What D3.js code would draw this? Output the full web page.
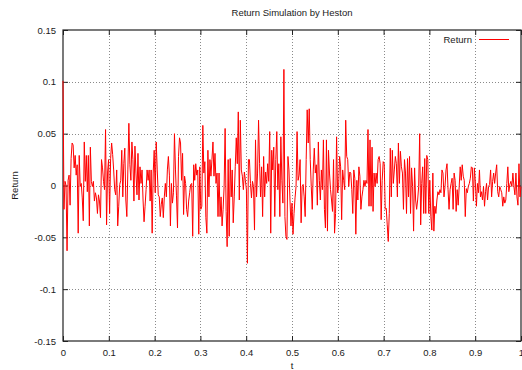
<!DOCTYPE html>
<html><head><meta charset="utf-8">
<script src="https://cdn.jsdelivr.net/npm/d3@7"></script>
<style>
body{margin:0;background:#fff}
svg{display:block}
text{font-family:"Liberation Sans",Arial,Helvetica,sans-serif;font-size:9.5px;fill:#1a1a1a}
</style>
</head><body>
<svg id="chart" width="522" height="370"></svg>
<script>
const title = "Return Simulation by Heston";
const xLabel = "t";
const yLabel = "Return";
const seriesName = "Return";
const xTicks = [0, 0.1, 0.2, 0.3, 0.4, 0.5, 0.6, 0.7, 0.8, 0.9, 1];
const xTickLabels = ["0", "0.1", "0.2", "0.3", "0.4", "0.5", "0.6", "0.7", "0.8", "0.9", "1"];
const yTicks = [-0.15, -0.1, -0.05, 0, 0.05, 0.1, 0.15];
const yTickLabels = ["-0.15", "-0.1", "-0.05", "0", "0.05", "0.1", "0.15"];

// simulated returns, evenly spaced over t in [0, 1]
const returns = [
 0.101,-0.023,0.004,0,-0.063,0.005,0.010,-0.019,0.026,0.041,0.039,0.017,0.029,0.010,0.020,-0.046,0.029,-0.001,0.002,-0.012,-0.034,0.042,0.004,0.029,-0.006,0.029,-0.039,0.037,0.004,-0.001,0.004,-0.015,-0.007,-0.012,-0.027,-0.009,-0.015,-0.031,0.025,0.017,0.004,-0.004,0.054,-0.038,0.013,
 0.025,-0.027,0.026,0.041,0.030,0.015,-0.004,-0.009,0.015,-0.039,-0.020,0.001,0.005,0.034,-0.011,0.021,0.036,-0.014,-0.030,0.015,0.060,0.020,0.005,0.042,0.025,-0.015,0.038,0.012,-0.009,0.031,-0.014,0.018,0.002,0.015,-0.014,-0.035,-0.020,-0.004,0.015,0.005,0.015,-0.015,0.015,-0.046,0.012,
 0.034,-0.007,0.042,0.015,-0.009,-0.011,-0.030,-0.018,-0.012,-0.031,-0.011,0.002,-0.011,0.015,0.028,0.010,-0.039,0.002,-0.017,-0.007,
 0.050,0.015,-0.010,-0.041,0.028,0.046,0.041,0.005,0.031,-0.028,0.009,0.002,-0.023,-0.030,-0.015,-0.007,0.001,0.002,-0.049,0.020,0.005,0.021,0.010,0.015,-0.047,0.018,-0.023,-0.020,0.058,0.012,0.023,-0.031,-0.046,0.034,-0.011,0.025,0.009,0.025,0.042,0.009,0.031,0.002,0.012,-0.030,0.012,-0.030,-0.011,-0.039,-0.023,-0.001,0.055,-0.025,-0.059,0.025,-0.049,0.026,-0.011,0.015,-0.036,-0.011,0.018,0.046,0.021,0.071,-0.014,0.063,0.015,0.009,-0.004,0.013,0.005,-0.004,-0.075,0.025,0.025,0.002,-0.012,0.004,-0.001,-0.043,0.044,-0.011,0.012,0.063,0.021,-0.011,0.018,-0.030,0.028,-0.011,0.013,0.002,0.021,0.004,0.052,-0.046,0.034,0.015,0.037,-0.030,0.025,0.052,-0.004,0.021,-0.030,0.047,0.005,-0.017,0.112,
 -0.030,-0.049,-0.052,0.028,0.015,-0.014,-0.039,-0.017,-0.047,-0.027,-0.012,-0.001,0.052,0.005,0.010,0.025,-0.036,-0.001,0.001,-0.011,-0.030,0.025,0.073,0.041,0.074,0.025,-0.001,-0.023,0.015,0.036,0.012,0.020,-0.019,0.042,0.005,-0.014,0.015,-0.004,0.044,-0.023,-0.041,0.044,-0.044,0.034,0.012,-0.004,-0.014,-0.025,0.025,-0.046,-0.027,0.047,-0.007,-0.001,0.028,0.018,-0.033,0.015,0.005,-0.004,0.063,0.028,0.025,-0.001,0.013,0.012,-0.004,-0.027,0.015,0.007,-0.047,0.005,-0.014,0.018,0.009,-0.023,-0.011,-0.004,0.005,-0.001,0.005,0.002,0.054,-0.020,0.044,-0.020,0.037,-0.025,0.012,-0.001,0.012,0.002,0.025,0.028,0.021,-0.033,0.005,0.023,0.021,-0.023,-0.022,-0.038,-0.054,-0.027,0.036,-0.011,0.034,0.002,0.015,0.028,0.021,-0.011,0.041,0.002,0.033,0.018,0.012,-0.023,0.025,
 0.012,-0.027,0.026,-0.011,0.028,-0.027,0.017,-0.001,-0.044,0.017,-0.014,-0.023,-0.014,-0.001,0.050,-0.038,0.002,0.018,-0.027,0.026,-0.027,0.029,0.025,-0.027,0.005,-0.030,-0.043,0.012,-0.044,-0.020,-0.027,-0.014,-0.006,-0.009,-0.004,-0.007,0.015,0.012,-0.011,-0.001,0.015,0.021,-0.004,-0.023,-0.004,0.002,0.007,-0.023,0.012,0.005,-0.025,-0.004,-0.019,-0.001,0.018,0.005,0.020,0.009,0.005,-0.030,-0.003,-0.007,-0.001,0.002,0.007,0.018,0.017,-0.015,0.017,0.002,-0.020,0.002,-0.007,0.015,-0.011,-0.006,-0.014,-0.001,-0.020,-0.006,0.002,-0.014,-0.001,0.001,0.015,-0.011,0.004,0.012,0.002,0.012,0.020,-0.006,-0.011,-0.001,-0.004,-0.007,-0.020,-0.011,-0.017,-0.014,0.002,0.018,-0.006,0.001,0.004,-0.001,0.012,-0.001,-0.009,0.012,-0.011,-0.019,0.021,-0.011,-0.001
];

const mLeft = 63, mRight = 521, mTop = 30, mBottom = 341;
const svg = d3.select("#chart");

const x = d3.scaleLinear().domain([0, 1]).range([mLeft, mRight]);
const y = d3.scaleLinear().domain([-0.15, 0.15]).range([mBottom, mTop]);
const n = returns.length;
const data = returns.map((v, i) => ({t: i / (n - 1), v}));

// grid
const grid = svg.append("g").attr("stroke", "#8a8a8a").attr("stroke-width", 1).attr("stroke-dasharray", "1,2");
grid.selectAll("line.gx").data(xTicks.filter(d => d > 0 && d < 1)).join("line")
  .attr("x1", d => Math.round(x(d)) + 0.5).attr("x2", d => Math.round(x(d)) + 0.5)
  .attr("y1", mTop).attr("y2", mBottom);
grid.selectAll("line.gy").data(yTicks.filter(d => d > -0.15 && d < 0.15)).join("line")
  .attr("y1", d => Math.round(y(d)) + 0.5).attr("y2", d => Math.round(y(d)) + 0.5)
  .attr("x1", mLeft).attr("x2", mRight);

// axes (ticks inward, mirrored)
const tickLen = 5;
const fmtX = (d, i) => xTickLabels[i];
const fmtY = (d, i) => yTickLabels[i];
const axB = svg.append("g").attr("transform", `translate(0,${mBottom})`)
  .call(d3.axisBottom(x).tickValues(xTicks).tickFormat(fmtX).tickSizeInner(-tickLen).tickSizeOuter(0).tickPadding(8));
const axT = svg.append("g").attr("transform", `translate(0,${mTop})`)
  .call(d3.axisTop(x).tickValues(xTicks).tickFormat("").tickSizeInner(-tickLen).tickSizeOuter(0));
const axL = svg.append("g").attr("transform", `translate(${mLeft},0)`)
  .call(d3.axisLeft(y).tickValues(yTicks).tickFormat(fmtY).tickSizeInner(-tickLen).tickSizeOuter(0).tickPadding(7));
const axR = svg.append("g").attr("transform", `translate(${mRight},0)`)
  .call(d3.axisRight(y).tickValues(yTicks).tickFormat("").tickSizeInner(-tickLen).tickSizeOuter(0));
[axB, axT, axL, axR].forEach(a => {
  a.select(".domain").remove();
  a.selectAll(".tick line").attr("stroke", "#222");
  a.selectAll("text").attr("font-family", null).attr("font-size", null).attr("fill", "#1a1a1a");
});

// border
svg.append("rect").attr("x", mLeft).attr("y", mTop).attr("width", mRight - mLeft).attr("height", mBottom - mTop)
  .attr("fill", "none").attr("stroke", "#222").attr("stroke-width", 1.2);

// series line
svg.append("path").datum(data)
  .attr("fill", "none").attr("stroke", "#ff0000").attr("stroke-width", 1)
  .attr("d", d3.line().x(d => x(d.t)).y(d => y(d.v)));

// titles
svg.append("text").attr("x", (mLeft + mRight) / 2).attr("y", 16).attr("text-anchor", "middle").text(title);
svg.append("text").attr("x", (mLeft + mRight) / 2).attr("y", 369).attr("text-anchor", "middle").text(xLabel);
svg.append("text").attr("transform", `translate(18,${(mTop + mBottom) / 2}) rotate(-90)`).attr("text-anchor", "middle").text(yLabel);

// legend
svg.append("text").attr("x", 472).attr("y", 43).attr("text-anchor", "end").text(seriesName);
svg.append("line").attr("x1", 479).attr("x2", 509).attr("y1", 39.5).attr("y2", 39.5)
  .attr("stroke", "#ff0000").attr("stroke-width", 1);
</script>
</body></html>
